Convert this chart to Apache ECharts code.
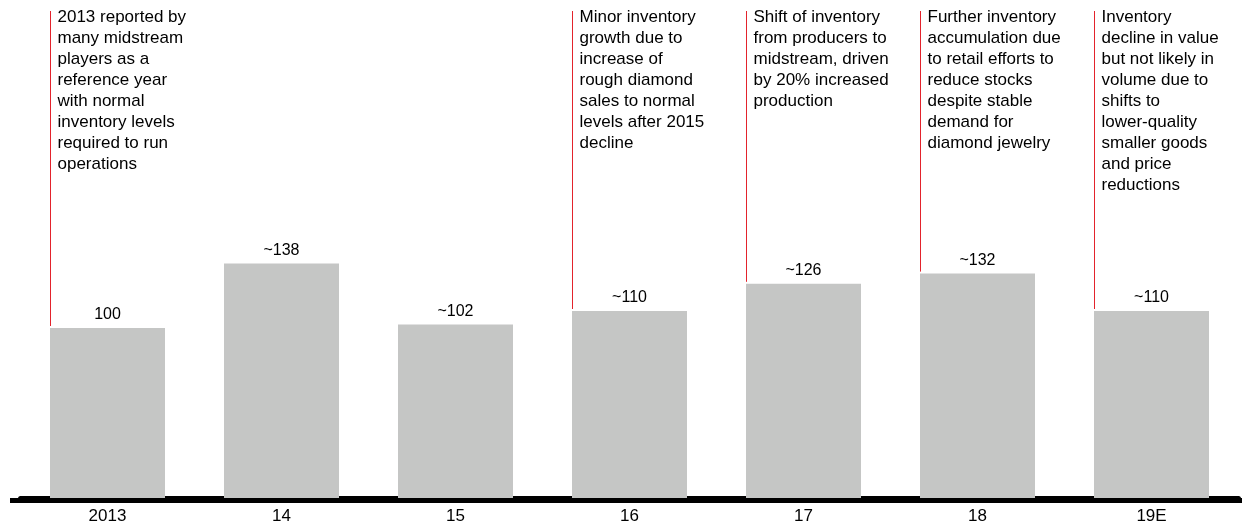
<!DOCTYPE html>
<html>
<head>
<meta charset="utf-8">
<title>Midstream diamond inventory index</title>
<script src="https://cdn.jsdelivr.net/npm/echarts@6/dist/echarts.min.js"></script>
<style>
  html, body { margin: 0; padding: 0; background: #ffffff; }
  #chart { width: 1244px; height: 528px; }
</style>
</head>
<body>
<div id="chart"></div>
<script>
// Years on the category axis
const years = ['2013', '14', '15', '16', '17', '18', '19E'];

// Inventory index, 2013 = 100
const inventory = [100, 138, 102, 110, 126, 132, 110];

// Which values are approximate (shown with a leading "~")
const approximate = [false, true, true, true, true, true, true];

// Commentary placed above each year (empty = no note)
const notes = [
  '2013 reported by\nmany midstream\nplayers as a\nreference year\nwith normal\ninventory levels\nrequired to run\noperations',
  '',
  '',
  'Minor inventory\ngrowth due to\nincrease of\nrough diamond\nsales to normal\nlevels after 2015\ndecline',
  'Shift of inventory\nfrom producers to\nmidstream, driven\nby 20% increased\nproduction',
  'Further inventory\naccumulation due\nto retail efforts to\nreduce stocks\ndespite stable\ndemand for\ndiamond jewelry',
  'Inventory\ndecline in value\nbut not likely in\nvolume due to\nshifts to\nlower-quality\nsmaller goods\nand price\nreductions'
];

const FONT = '"Liberation Sans", Arial, Helvetica, sans-serif';
const BAR_WIDTH = 115;
const GRID_TOP = 5;
const GRID_BOTTOM = 30;

const chart = echarts.init(document.getElementById('chart'), null, { renderer: 'canvas' });

chart.setOption({
  animation: false,
  backgroundColor: '#ffffff',
  grid: { left: 20.5, right: 5.5, top: GRID_TOP, bottom: GRID_BOTTOM, containLabel: false },
  xAxis: {
    type: 'category',
    data: years,
    boundaryGap: true,
    offset: 2.5,
    axisLine: { show: true, lineStyle: { color: '#000000', width: 5 } },
    axisTick: { show: false },
    axisLabel: { color: '#000000', fontSize: 17, fontFamily: FONT, margin: 7 }
  },
  yAxis: {
    type: 'value',
    min: 0,
    max: 290,
    show: false,
    splitLine: { show: false }
  },
  graphic: [
    // baseline runs slightly past the plot area on both sides
    { type: 'rect', shape: { x: 10, y: 498, width: 1232, height: 5 }, style: { fill: '#000000' }, z: 10 }
  ],
  series: [
    {
      type: 'bar',
      data: inventory,
      barWidth: BAR_WIDTH,
      itemStyle: { color: '#c5c6c5' },
      label: {
        show: true,
        position: 'top',
        distance: 5,
        color: '#000000',
        fontSize: 16,
        fontFamily: FONT,
        formatter: (p) => (approximate[p.dataIndex] ? '~' : '') + p.value
      },
      z: 2
    },
    {
      // red leader line and note text on the left edge of each annotated bar
      type: 'custom',
      data: inventory.map((v, i) => [i, v]),
      z: 3,
      silent: true,
      renderItem: (params, api) => {
        const idx = api.value(0);
        const text = notes[idx];
        if (!text) return null;
        const pt = api.coord([idx, api.value(1)]);
        const x = Math.round(pt[0] - BAR_WIDTH / 2) + 0.5;
        return {
          type: 'group',
          children: [
            {
              type: 'line',
              shape: { x1: x, y1: 11, x2: x, y2: pt[1] - 2 },
              style: { stroke: '#e3232c', lineWidth: 1 }
            },
            {
              type: 'text',
              style: {
                text: text,
                x: x + 7,
                y: 7,
                fill: '#000000',
                fontSize: 17,
                fontFamily: FONT,
                lineHeight: 21,
                verticalAlign: 'top',
                align: 'left'
              }
            }
          ]
        };
      }
    }
  ]
});
</script>
</body>
</html>
